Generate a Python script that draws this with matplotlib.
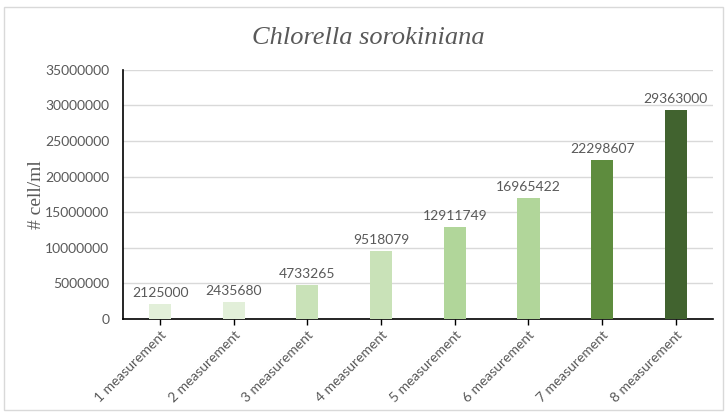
import matplotlib.pyplot as plt
from matplotlib.patches import Rectangle

# measurements of Chlorella sorokiniana cell density
labels = ['1 measurement', '2 measurement', '3 measurement', '4 measurement',
          '5 measurement', '6 measurement', '7 measurement', '8 measurement']
cells = [2125000, 2435680, 4733265, 9518079, 12911749, 16965422, 22298607, 29363000]
colors = ['#e2efd9', '#e2efd9', '#c9e2b8', '#c9e2b8',
          '#b1d69a', '#b1d69a', '#5e8c3e', '#41632f']

plt.rcParams['font.family'] = ['Lato', 'DejaVu Sans']
gray = '#595959'

fig = plt.figure(figsize=(7.25, 4.13), dpi=100)
fig.patches.append(Rectangle((0.006, 0.008), 0.991, 0.975, transform=fig.transFigure,
                             fill=False, edgecolor='#d9d9d9', linewidth=1))
ax = fig.add_axes([0.170, 0.228, 0.813, 0.603])

x = range(len(cells))
ax.bar(x, cells, width=0.3, color=colors, zorder=3)
for i, v in enumerate(cells):
    ax.text(i, v + 700000, str(v), ha='center', va='bottom', fontsize=10, color=gray)

ax.set_xlim(-0.5, len(cells) - 0.5)
ax.set_ylim(0, 35000000)
ax.set_yticks(range(0, 35000001, 5000000))
ax.set_yticklabels([str(t) for t in range(0, 35000001, 5000000)])
ax.yaxis.grid(True, color='#d9d9d9', linewidth=1, zorder=0)
ax.set_xticks(list(x))
ax.set_xticklabels(labels, rotation=45, ha='right', rotation_mode='anchor')
ax.tick_params(axis='x', colors=gray, labelsize=10, length=4, width=1, direction='out')
ax.tick_params(axis='x', which='both', color='black')
ax.tick_params(axis='y', colors=gray, labelsize=10, length=0, pad=10)
for s in ['top', 'right']:
    ax.spines[s].set_visible(False)
ax.spines['left'].set_color('black')
ax.spines['bottom'].set_color('black')
ax.spines['left'].set_linewidth(1.2)
ax.spines['bottom'].set_linewidth(1.2)

ax.set_ylabel('# cell/ml', family='Liberation Serif', fontsize=14, color=gray, labelpad=0)
fig.text(0.508, 0.908, 'Chlorella sorokiniana', family='Liberation Serif',
         style='italic', fontsize=19, color=gray, ha='center', va='center')

fig.savefig('out.png', dpi=100)
